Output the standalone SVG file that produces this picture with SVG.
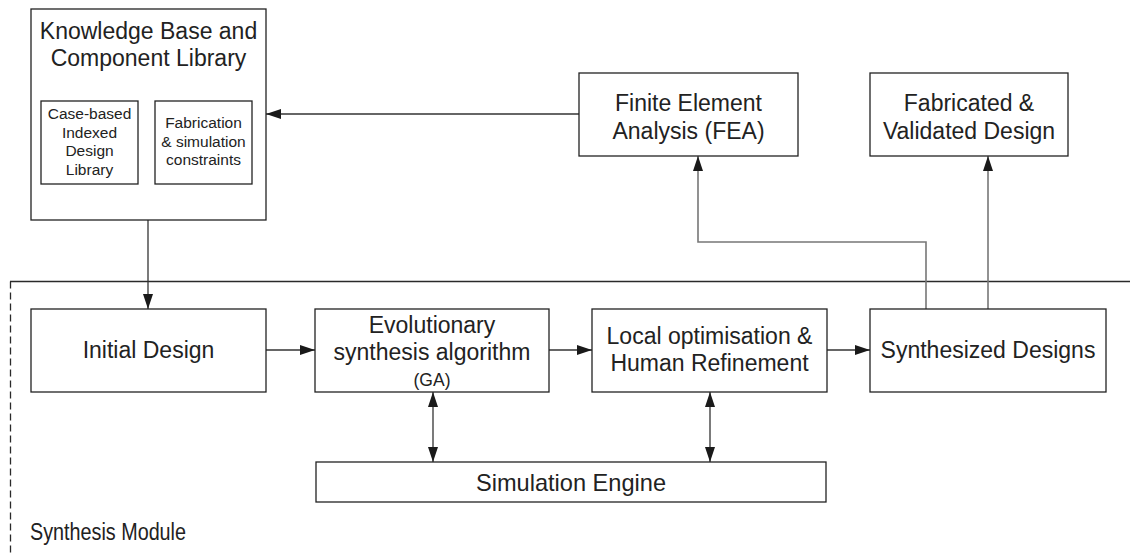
<svg xmlns="http://www.w3.org/2000/svg" width="1130" height="556" viewBox="0 0 1130 556">
  <style>
    .box { fill: #ffffff; stroke: #222222; stroke-width: 1.3; }
    .wire { fill: none; stroke: #333333; stroke-width: 1.3; }
    .wire-grey { fill: none; stroke: #777777; stroke-width: 1.6; }
    .frame { fill: none; stroke: #2a2a2a; stroke-width: 1.3; }
    .frame-dash { fill: none; stroke: #2a2a2a; stroke-width: 1.3; stroke-dasharray: 7 4; }
    text { font-family: "Liberation Sans", Arial, sans-serif; fill: #222222; text-anchor: middle; }
    .lg { font-size: 23px; }
    .sm { font-size: 15.5px; }
    .ga { font-size: 17.5px; }
    .narrow { font-size: 24px; }
    .caption { font-size: 23px; text-anchor: start; }
  </style>
  <defs>
    <marker id="head" viewBox="0 0 15 10" refX="15" refY="5" markerWidth="15" markerHeight="10" markerUnits="userSpaceOnUse" orient="auto-start-reverse">
      <path d="M0,0 L15,5 L0,10 Z" fill="#1a1a1a"/>
    </marker>
  </defs>

  <!-- synthesis module frame -->
  <g id="synthesis-module">
    <line class="frame" x1="10" y1="281.5" x2="1130" y2="281.5"/>
    <line class="frame-dash" x1="10.5" y1="281.5" x2="10.5" y2="556"/>
    <text class="caption" x="30" y="540" textLength="156" lengthAdjust="spacingAndGlyphs">Synthesis Module</text>
  </g>

  <!-- connectors -->
  <g id="connectors">
    <line class="wire" x1="579" y1="114" x2="266" y2="114" marker-end="url(#head)"/>
    <line class="wire" x1="148" y1="220" x2="148" y2="309" marker-end="url(#head)"/>
    <line class="wire" x1="266" y1="350" x2="315" y2="350" marker-end="url(#head)"/>
    <line class="wire" x1="549" y1="350" x2="592" y2="350" marker-end="url(#head)"/>
    <line class="wire" x1="827" y1="350" x2="870" y2="350" marker-end="url(#head)"/>
    <polyline class="wire-grey" points="926,309 926,242 698,242 698,156" marker-end="url(#head)"/>
    <line class="wire-grey" x1="988" y1="309" x2="988" y2="156" marker-end="url(#head)"/>
    <line class="wire" x1="433" y1="392" x2="433" y2="462" marker-start="url(#head)" marker-end="url(#head)"/>
    <line class="wire" x1="710" y1="392" x2="710" y2="462" marker-start="url(#head)" marker-end="url(#head)"/>
  </g>

  <!-- knowledge base -->
  <g id="knowledge-base">
    <rect class="box" x="31" y="9" width="235" height="211"/>
    <text class="lg" x="148.5" y="39">Knowledge Base and</text>
    <text class="lg" x="148.5" y="66">Component Library</text>
  </g>
  <g id="case-library">
    <rect class="box" x="41" y="101" width="97" height="83"/>
    <text class="sm" x="89.5" y="119">Case-based</text>
    <text class="sm" x="89.5" y="137.5">Indexed</text>
    <text class="sm" x="89.5" y="156">Design</text>
    <text class="sm" x="89.5" y="174.5">Library</text>
  </g>
  <g id="constraints">
    <rect class="box" x="155" y="101" width="97" height="83"/>
    <text class="sm" x="203.5" y="128">Fabrication</text>
    <text class="sm" x="203.5" y="146.5">&amp; simulation</text>
    <text class="sm" x="203.5" y="165">constraints</text>
  </g>

  <!-- FEA -->
  <g id="fea">
    <rect class="box" x="579" y="73" width="219" height="83"/>
    <text class="lg" x="688.5" y="111">Finite Element</text>
    <text class="lg" x="688.5" y="139">Analysis (FEA)</text>
  </g>

  <!-- fabricated design -->
  <g id="fabricated">
    <rect class="box" x="870" y="73" width="198" height="83"/>
    <text class="lg" x="969" y="111">Fabricated &amp;</text>
    <text class="lg" x="969" y="139">Validated Design</text>
  </g>

  <!-- pipeline -->
  <g id="initial-design">
    <rect class="box" x="31" y="309" width="235" height="83"/>
    <text class="lg" x="148.5" y="358">Initial Design</text>
  </g>
  <g id="evolutionary">
    <rect class="box" x="315" y="309" width="234" height="83"/>
    <text class="lg" x="432" y="333">Evolutionary</text>
    <text class="lg" x="432" y="360">synthesis algorithm</text>
    <text class="ga" x="432" y="386">(GA)</text>
  </g>
  <g id="local-optimisation">
    <rect class="box" x="592" y="309" width="235" height="83"/>
    <text class="lg" x="709.5" y="344">Local optimisation &amp;</text>
    <text class="lg" x="709.5" y="371">Human Refinement</text>
  </g>
  <g id="synthesized">
    <rect class="box" x="870" y="309" width="236" height="83"/>
    <text class="lg" x="988" y="358">Synthesized Designs</text>
  </g>
  <g id="simulation-engine">
    <rect class="box" x="316" y="462" width="510" height="40"/>
    <text class="narrow" x="571" y="491" textLength="190" lengthAdjust="spacingAndGlyphs">Simulation Engine</text>
  </g>
</svg>
